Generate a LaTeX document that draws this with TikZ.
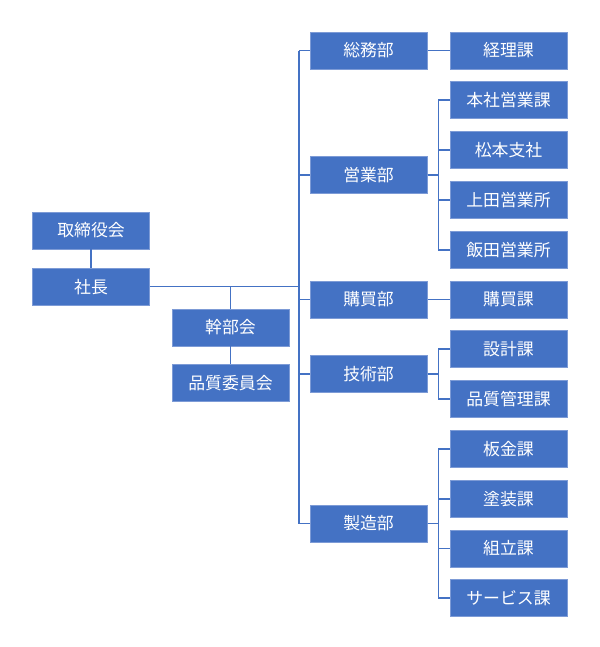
\documentclass[tikz,border=0pt]{standalone}
\usepackage{fontspec}
\setmainfont{Noto Sans CJK JP}
\usepackage{xcolor}
\usepackage{tikz}
\usetikzlibrary{positioning,calc}
\definecolor{orgblue}{HTML}{4472C4}
\definecolor{orgedge}{HTML}{7D9BD6}

\begin{document}
\begin{tikzpicture}[
  x=0.025cm,y=-0.025cm,
  node distance=0.302cm and 0.55cm,
  box/.style={draw=orgedge,line width=0.5pt,fill=orgblue,text=white,
              minimum width=2.93cm,minimum height=0.925cm,inner sep=0pt,
              align=center,font=\fontsize{12}{14}\selectfont},
  link/.style={draw=orgblue,line width=1.2pt}
]
\useasboundingbox (0,0) rectangle (600,647);
% top management
\node[box] at (91,230.5) (board) {取締役会};
\node[box,below=0.46cm of board] (pres) {社長};
\node[box] at (230.5,327.5) (exec) {幹部会};
\node[box,below=0.44cm of exec] (qc) {品質委員会};
% sections
\node[box] at (508.5,50.5) (keiri) {経理課};
\node[box,below=of keiri] (honsha) {本社営業課};
\node[box,below=of honsha] (matsumoto) {松本支社};
\node[box,below=of matsumoto] (ueda) {上田営業所};
\node[box,below=of ueda] (iida) {飯田営業所};
\node[box,below=of iida] (koubaika) {購買課};
\node[box,below=of koubaika] (sekkei) {設計課};
\node[box,below=of sekkei] (hinkan) {品質管理課};
\node[box,below=of hinkan] (bankin) {板金課};
\node[box,below=of bankin] (tosou) {塗装課};
\node[box,below=of tosou] (kumitate) {組立課};
\node[box,below=of kumitate] (service) {サービス課};
% departments
\node[box,left=of keiri] (soumu) {総務部};
\node[box,anchor=east,xshift=-0.55cm] at ($(honsha.west)!.5!(iida.west)$) (eigyo) {営業部};
\node[box,left=of koubaika] (koubai) {購買部};
\node[box,anchor=east,xshift=-0.55cm] at ($(sekkei.west)!.5!(hinkan.west)$) (gijutsu) {技術部};
\node[box,anchor=east,xshift=-0.55cm] at ($(bankin.west)!.5!(service.west)$) (seizou) {製造部};
% connectors
\coordinate (trunk) at ([xshift=-0.27cm]soumu.west);
\draw[link] (board) -- (pres);
\draw[link] (pres.east) -- (pres.east -| trunk);
\draw[link] (exec.north |- pres.east) -- (exec.north);
\draw[link] (exec) -- (qc);
\draw[link] (trunk) -- (trunk |- seizou.west);
\foreach \d in {soumu,eigyo,koubai,gijutsu,seizou}
  \draw[link] (\d.west) -- (trunk |- \d.west);
\draw[link] (soumu) -- (keiri);
\draw[link] (koubai) -- (koubaika);
\foreach \s in {honsha,matsumoto,ueda,iida}
  \draw[link] (eigyo.east) -- ++(0.275cm,0) |- (\s.west);
\foreach \s in {sekkei,hinkan}
  \draw[link] (gijutsu.east) -- ++(0.275cm,0) |- (\s.west);
\foreach \s in {bankin,tosou,kumitate,service}
  \draw[link] (seizou.east) -- ++(0.275cm,0) |- (\s.west);
\end{tikzpicture}
\end{document}
